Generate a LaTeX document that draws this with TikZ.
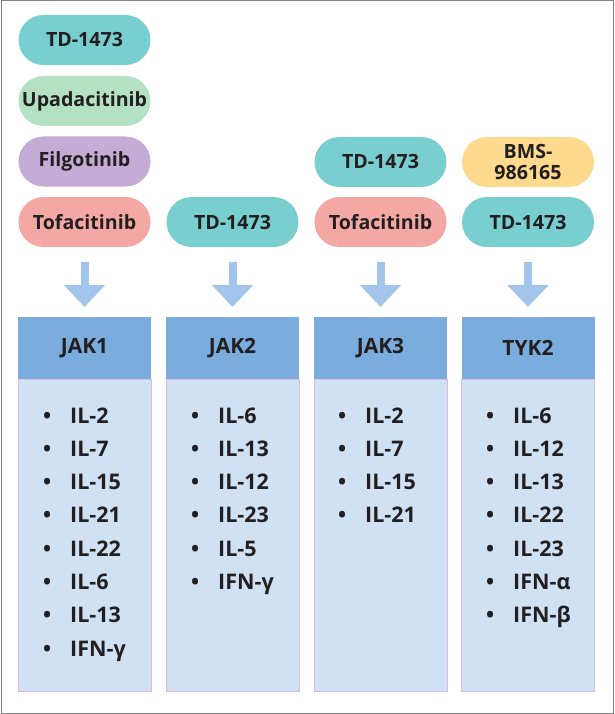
\documentclass[tikz,border=0pt]{standalone}
\usepackage{fontspec}
\setmainfont{Open Sans}
\usetikzlibrary{arrows.meta, positioning}

\definecolor{ink}{RGB}{35,31,32}
\definecolor{tdteal}{RGB}{121,206,207}
\definecolor{upagreen}{RGB}{180,224,196}
\definecolor{filpurple}{RGB}{196,172,215}
\definecolor{tofpink}{RGB}{244,168,163}
\definecolor{bmsyellow}{RGB}{254,218,142}
\definecolor{headblue}{RGB}{122,173,222}
\definecolor{bodyblue}{RGB}{207,225,243}
\definecolor{bodyedge}{RGB}{216,186,227}
\definecolor{arrowblue}{RGB}{163,197,235}
\definecolor{framegray}{RGB}{130,130,130}

\tikzset{
  pill/.style={rectangle, rounded corners=25pt, minimum width=132pt, minimum height=50pt,
    inner sep=0pt, align=center, text=ink, font=\fontsize{19.6}{21}\selectfont\bfseries},
  kinase/.style={rectangle, fill=headblue, minimum width=133pt, minimum height=62pt,
    inner sep=0pt, text=ink, font=\fontsize{21}{23}\selectfont\bfseries},
  listbox/.style={rectangle, fill=bodyblue, draw=bodyedge, line width=0.8pt,
    minimum width=133pt, minimum height=312pt, inner sep=0pt},
  cyto/.style={anchor=base west, inner sep=0pt, text=ink, font=\fontsize{21.5}{23}\selectfont\bfseries},
  blockarrow/.style={draw=arrowblue, line width=8pt,
    -{Triangle[width=40pt, length=22pt]}, shorten <=15pt, shorten >=10pt}
}

\newcommand{\bul}{\makebox[27pt][l]{\textbullet}}

\begin{document}
\begin{tikzpicture}[x=1pt, y=-1pt]
  \useasboundingbox (0,0) rectangle (615,714);
  \draw[framegray, line width=1pt] (1,1) rectangle (613,713);

  % drugs
  \node[pill, fill=tdteal] (td1) at (84.5, 40) {TD-1473};
  \node[pill, fill=upagreen] (upa) at (84.5, 101) {Upadacitinib};
  \node[pill, fill=filpurple] (fil) at (84.5, 161.5) {Filgotinib};
  \node[pill, fill=tofpink] (tof1) at (84.5, 222) {Tofacitinib};
  \node[pill, fill=tdteal] (td2) at (232.5, 222) {TD-1473};
  \node[pill, fill=tdteal] (td3) at (380.5, 162) {TD-1473};
  \node[pill, fill=tofpink] (tof3) at (380.5, 222) {Tofacitinib};
  \node[pill, fill=bmsyellow] (bms) at (528, 162) {BMS-\\986165};
  \node[pill, fill=tdteal] (td4) at (528, 222) {TD-1473};

  % kinases
  \node[kinase, anchor=north] (jak1) at (84.5, 317) {JAK1};
  \node[kinase, anchor=north] (jak2) at (232.5, 317) {JAK2};
  \node[kinase, anchor=north] (jak3) at (380.5, 317) {JAK3};
  \node[kinase, anchor=north] (tyk2) at (528, 317) {TYK2};
  \node[listbox, anchor=north] (jak1box) at (jak1.south) {};
  \node[listbox, anchor=north] (jak2box) at (jak2.south) {};
  \node[listbox, anchor=north] (jak3box) at (jak3.south) {};
  \node[listbox, anchor=north] (tyk2box) at (tyk2.south) {};

  % arrows
  \draw[blockarrow] (tof1.south) -- (jak1.north);
  \draw[blockarrow] (td2.south) -- (jak2.north);
  \draw[blockarrow] (tof3.south) -- (jak3.north);
  \draw[blockarrow] (td4.south) -- (tyk2.north);

  % cytokines
  \foreach \t [count=\i] in {IL-2, IL-7, IL-15, IL-21, IL-22, IL-6, IL-13, IFN-γ}
    \node[cyto] (a\i) at (43, 389.7+33.3*\i) {\bul\t};
  \foreach \t [count=\i] in {IL-6, IL-13, IL-12, IL-23, IL-5, IFN-γ}
    \node[cyto] (b\i) at (191, 389.7+33.3*\i) {\bul\t};
  \foreach \t [count=\i] in {IL-2, IL-7, IL-15, IL-21}
    \node[cyto] (c\i) at (338, 389.7+33.3*\i) {\bul\t};
  \foreach \t [count=\i] in {IL-6, IL-12, IL-13, IL-22, IL-23, IFN-α, IFN-β}
    \node[cyto] (d\i) at (486, 389.7+33.3*\i) {\bul\t};
\end{tikzpicture}
\end{document}
